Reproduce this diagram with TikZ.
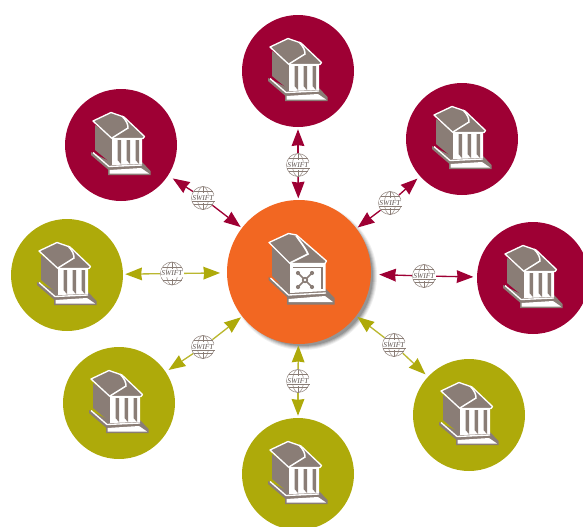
\documentclass[tikz,border=0pt]{standalone}
\usepackage{fontspec}
\setmainfont{Liberation Serif}
\usetikzlibrary{arrows.meta}
\definecolor{wine}{HTML}{9E0034}
\definecolor{olive}{HTML}{AEAA0A}
\definecolor{hubor}{HTML}{F26722}
\definecolor{stone}{HTML}{8A7D76}
\tikzset{
  x=0.75pt,y=-0.75pt,
  disc/.style={circle,inner sep=0pt,minimum size=112*0.75pt,fill=#1},
  hubdisc/.style={circle,inner sep=0pt,minimum size=144*0.75pt,fill=hubor},
  gl/.style={draw=stone,line width=0.35pt},
  linkw/.style={-{Stealth[length=12.5pt,width=9.5pt,inset=0.6pt,fill=wine]},line width=1pt,draw=wine},
  linko/.style={-{Stealth[length=12.5pt,width=9.5pt,inset=0.6pt,fill=olive,color=olive]},line width=1pt,draw=olive!85!white},
  wl/.style={draw=white,line width=1pt,line join=round},
  bank/.pic={
    % base
    \fill[stone] (-30,7)--(-30,10)--(-13,24.5)--(-13,30)--(29.5,30)--(29.5,26)--(21,17)--(-10,17)--cycle;
    \draw[white,line width=1pt] (-28,7.5)--(-12,21.5)--(21,20);
    \fill[white] (-11.5,25)--(20,23)--(28,28.5)--(-11.5,28.5)--cycle;
    % body
    \fill[stone] (-26,-20)--(-9,-8)--(-9,19)--(-26,5)--cycle;
    % front colonnade
    \fill[white] (-9,-7)--(21,-7)--(21,19)--(-9,20)--cycle;
    \foreach \cx in {-3.5,5.5,14.5}{
      \fill[stone] (\cx,-5)--(\cx+3.5,-5)--(\cx+3.5,19)--(\cx,15)--cycle;
    }
    % roof
    \path[wl,fill=stone] (-28,-24)--(-10,-32.5)--(3,-28)--(23.5,-8.5)--(22,-6.5)--(-9,-6.5)--cycle;
    \draw[white,line width=1.1pt] (1,-29) .. controls (6,-24) and (7,-20) .. (7,-17) -- (-9,-7);
  },
  hubpic/.pic={
    \fill[stone] (-30.5,5)--(-30.5,8)--(-12,25)--(-12,32.5)--(35.5,32.5)--(35.5,26)--(27,17)--(-10,17)--cycle;
    \draw[white,line width=1pt] (-28.5,6)--(-10.5,23)--(27,21);
    \fill[white] (-10.5,27)--(26,24)--(34,30)--(-10.5,30)--cycle;
    \fill[stone] (-27,-27)--(-9,-9)--(-9,21)--(-27,4)--cycle;
    \fill[white] (-9,-8)--(26.5,-8)--(26.5,19)--(-9,21)--cycle;
    \draw[stone,line width=1pt] (-6,-4.5)--(23,-4.5)--(23,17);
    \path[wl,fill=stone] (-30,-29.5)--(-10.5,-38.5)--(-2.5,-37)--(27.5,-11)--(26,-8.5)--(-9,-8.5)--cycle;
    \draw[white,line width=1.3pt] (-3,-36.5) .. controls (3,-28) and (7,-23) .. (9,-18) -- (-9,-9);
    \draw[stone,line width=1.1pt] (-1,1)--(13,15) (13,1)--(-1,15);
    \foreach \dx/\dy in {-1/1,13/1,-1/15,13/15}{\fill[stone] (\dx,\dy) circle[radius=2.1];}
    \fill[stone] (6,8) circle[radius=3.2];
    \fill[white] (6,8) circle[radius=1.4];
  },
  swiftlines/.pic={
    \draw[gl] (0,0) circle[radius=11.5];
    \draw[gl] (0,0) ellipse[x radius=5.5,y radius=11.5];
    \draw[gl] (0,-11.5)--(0,-5) (0,5)--(0,11.5);
    \draw[gl] (-9.5,-6.5)--(9.5,-6.5) (-9.5,6.5)--(9.5,6.5) (-11.5,-3)--(11.5,-3) (-11.5,3)--(11.5,3);
    \fill[white] (-11.5,-3.2) rectangle (11.5,3.2);
  }
}
\begin{document}
\begin{tikzpicture}
\clip (0,0) rectangle (583,526);
% shadow of the hub
\foreach \r/\o in {74/.06,73/.08,72/.10,71/.12,70/.14}{
  \fill[black,opacity=\o] (303,276) circle[radius=\r];
}
\node[hubdisc] (hub) at (299,272) {};
\node[disc=wine]  (bT)  at (298,71)  {};
\node[disc=wine]  (bUR) at (462,139) {};
\node[disc=wine]  (bR)  at (533,278) {};
\node[disc=olive] (bLR) at (469,415) {};
\node[disc=olive] (bB)  at (298,474) {};
\node[disc=olive] (bLL) at (119,403) {};
\node[disc=olive] (bL)  at (67,275)  {};
\node[disc=wine]  (bUL) at (121,145) {};
\foreach \n in {bT,bUR,bR,bLR,bB,bLL,bL,bUL}{ \pic at (\n) {bank}; }
\pic at (hub) {hubpic};
\foreach \n/\xx/\yy in {sT/298/165,sUR/390/203,sR/424/276,sLR/394/345,sB/298/381,sLL/203/347,sL/172/273.5,sUL/203/198}{
  \coordinate (\n) at (\xx,\yy);
}
\draw[linkw,shorten >=1.5pt] (sT)--(bT);
\draw[linkw,shorten >=1pt] (sT)--(hub);
\draw[linkw,shorten >=2.5pt] (sUR)--(bUR);
\draw[linkw,shorten >=1pt] (sUR)--(hub);
\draw[linkw,shorten >=2.5pt] (sR)--(bR);
\draw[linkw,shorten >=6pt] (sR)--(hub);
\draw[linkw,shorten >=4pt] (sUL)--(bUL);
\draw[linkw,shorten >=1pt] (sUL)--(hub);
\draw[linko,shorten >=2.5pt] (sLR)--(bLR);
\draw[linko,shorten >=1pt] (sLR)--(hub);
\draw[linko,shorten >=1.5pt] (sB)--(bB);
\draw[linko,shorten >=1pt] (sB)--(hub);
\draw[linko,shorten >=2.5pt] (sLL)--(bLL);
\draw[linko,shorten >=1pt] (sLL)--(hub);
\draw[linko,shorten >=1.5pt] (sL)--(bL);
\draw[linko,shorten >=5pt] (sL)--(hub);
\foreach \n/\m in {sT/gT,sUR/gUR,sR/gR,sLR/gLR,sB/gB,sLL/gLL,sL/gL,sUL/gUL}{
  \fill[white] (\n) circle[radius=12];
  \pic at (\n) {swiftlines};
  \node[inner sep=0pt,font=\itshape\fontsize{5.6pt}{6pt}\selectfont,text=stone!70!black] (\m) at (\n) {SWIFT};
}
\end{tikzpicture}
\end{document}
